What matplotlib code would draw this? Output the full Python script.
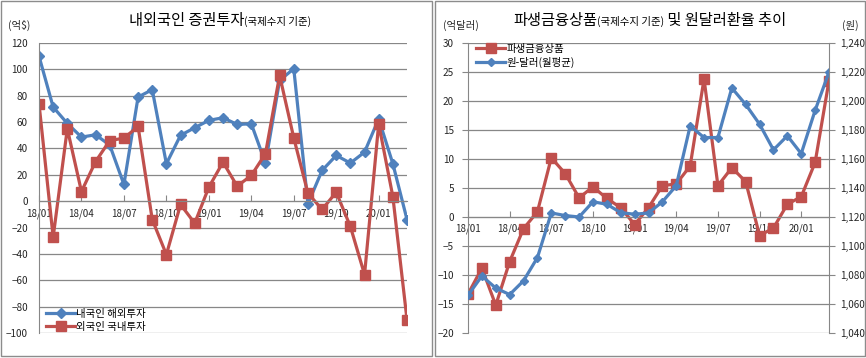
import matplotlib
matplotlib.use("Agg")
import matplotlib.pyplot as plt
from matplotlib.offsetbox import TextArea, HPacker, AnchoredOffsetbox
from matplotlib.patches import Rectangle
from matplotlib.ticker import FuncFormatter

plt.rcParams['font.family'] = ['Noto Sans CJK KR', 'DejaVu Sans']

BLUE = '#4F81BD'
RED = '#C0504D'
GRID = '#878787'
TXT = '#262626'

# months 18/01 .. 20/03
months = ['18/01', '18/02', '18/03', '18/04', '18/05', '18/06', '18/07', '18/08', '18/09',
          '18/10', '18/11', '18/12', '19/01', '19/02', '19/03', '19/04', '19/05', '19/06',
          '19/07', '19/08', '19/09', '19/10', '19/11', '19/12', '20/01', '20/02', '20/03']

# left chart (억$)
resident_abroad = [110, 71.4, 59, 48.6, 50.4, 42.5, 12.7, 79, 84.6, 28.4, 50, 55.7, 61.3, 63.3,
                   58.2, 58.7, 28.9, 91.6, 100.5, -2, 23.3, 34.7, 28.9, 37.2, 62.5, 28.4, -13.9]
foreign_domestic = [74, -27.3, 55, 7.3, 30.1, 46, 47.8, 56.7, -13.9, -40.5, -2.5, -16.7, 10.6, 29.6,
                    11.4, 19.5, 36, 95.4, 48, 6.1, -6.3, 6.8, -19.2, -55.7, 58.7, 3.5, -89.9]

# right chart
derivatives = [-13.3, -8.8, -15.2, -7.7, -2.0, 0.9, 10.2, 7.5, 3.3, 5.2, 3.2, 1.6, -1.3, 1.6,
               5.4, 5.7, 8.8, 23.8, 5.4, 8.5, 6.1, -3.2, -1.9, 2.2, 3.5, 9.4, 23.5]
krw_usd = [1066, 1079.3, 1071, 1066.5, 1076, 1092, 1122.8, 1121, 1120, 1130.5, 1128.8, 1123,
           1121.9, 1122.8, 1130.5, 1141.6, 1182.8, 1174.8, 1174.8, 1209, 1197.6, 1184, 1166.3,
           1176, 1163.7, 1193.5, 1220]

W, H = 866, 358
fig = plt.figure(figsize=(W / 100, H / 100), dpi=100)


def px_axes(x0, x1, y0, y1):
    # pixel box (top-left origin) -> figure fraction axes
    return fig.add_axes([x0 / W, 1 - y1 / H, (x1 - x0) / W, (y1 - y0) / H])


def style_cat_axis(ax):
    idx = list(range(0, len(months), 3))
    ax.set_xticks(idx)
    ax.set_xticklabels([months[i] for i in idx])
    ax.set_xlim(0, len(months) - 1)
    ax.spines['bottom'].set_position(('data', 0))
    ax.spines['bottom'].set_color(GRID)
    ax.tick_params(axis='x', direction='in', length=4, color=GRID, labelsize=7,
                   labelcolor=TXT, pad=5)
    for s in ('top', 'right'):
        ax.spines[s].set_visible(False)
    ax.yaxis.grid(True, color=GRID, lw=0.9)
    ax.set_axisbelow(True)


def title(x, y, parts):
    boxes = [TextArea(t, textprops=dict(fontsize=fs, color='black')) for t, fs in parts]
    pack = HPacker(children=boxes, align='baseline', pad=0, sep=0)
    ab = AnchoredOffsetbox(loc='center', child=pack, frameon=False, pad=0,
                           bbox_to_anchor=(x / W, 1 - y / H), bbox_transform=fig.transFigure)
    fig.add_artist(ab)


# ---------- left panel ----------
ax1 = px_axes(39, 407, 43, 333)
x = range(len(months))
ax1.plot(x, resident_abroad, color=BLUE, lw=2.3, marker='D', ms=5.5, label='내국인 해외투자')
ax1.plot(x, foreign_domestic, color=RED, lw=2.3, marker='s', ms=6.5, label='외국인 국내투자')
ax1.set_ylim(-100, 120)
ax1.set_yticks(range(-100, 121, 20))
style_cat_axis(ax1)
ax1.spines['left'].set_color(GRID)
ax1.tick_params(axis='y', length=0, labelsize=7.2, labelcolor=TXT, pad=8)
ax1.legend(loc='lower left', bbox_to_anchor=(46 / W, 1 - 332 / H), bbox_transform=fig.transFigure,
           frameon=False, fontsize=7.5, handlelength=2.8, handletextpad=0.1, labelspacing=0.3,
           borderpad=0, borderaxespad=0)

title(220, 20, [('내외국인 증권투자', 11), ('(국제수지 기준)', 7.5)])
fig.text(8 / W, 1 - 25 / H, '(억$)', fontsize=7.5, va='center', ha='left', color=TXT)

# ---------- right panel ----------
ax2 = px_axes(468, 829, 43, 333)
l1, = ax2.plot(x, derivatives, color=RED, lw=2.3, marker='s', ms=6.5, label='파생금융상품')
ax2.set_ylim(-20, 30)
ax2.set_yticks(range(-20, 31, 5))
style_cat_axis(ax2)
ax2.spines['left'].set_color(GRID)
ax2.tick_params(axis='y', direction='out', length=4, color=GRID, labelsize=7.2,
                labelcolor=TXT, pad=6)

ax3 = ax2.twinx()
l2, = ax3.plot(x, krw_usd, color=BLUE, lw=2.3, marker='D', ms=4.5, label='원-달러(월평균)')
ax3.set_ylim(1040, 1240)
ax3.set_yticks(range(1040, 1241, 20))
ax3.yaxis.set_major_formatter(FuncFormatter(lambda v, p: f'{int(v):,}'))
for s in ('top', 'left', 'bottom'):
    ax3.spines[s].set_visible(False)
ax3.spines['right'].set_color(GRID)
ax3.tick_params(axis='y', direction='out', length=4, color=GRID, labelsize=7.2,
                labelcolor=TXT, pad=4)
ax3.legend(handles=[l1, l2], loc='upper left', bbox_to_anchor=(476 / W, 1 - 44 / H),
           bbox_transform=fig.transFigure, frameon=False, fontsize=7.5, handlelength=2.8,
           handletextpad=0.1, labelspacing=0.3, borderpad=0, borderaxespad=0)

title(650, 20, [('파생금융상품', 11), ('(국제수지 기준)', 7.5), (' 및 원달러환율 추이', 11)])
fig.text(443 / W, 1 - 25 / H, '(억달러)', fontsize=7.5, va='center', ha='left', color=TXT)
fig.text(842 / W, 1 - 25 / H, '(원)', fontsize=7.5, va='center', ha='left', color=TXT)

# panel frames
for x0, x1 in ((1, 432), (435, 865)):
    fig.add_artist(Rectangle((x0 / W, 1 - 356 / H), (x1 - x0) / W, 355 / H,
                             transform=fig.transFigure, fill=False, ec='#8c8c8c', lw=1.0))

fig.savefig('out.png', dpi=100)
